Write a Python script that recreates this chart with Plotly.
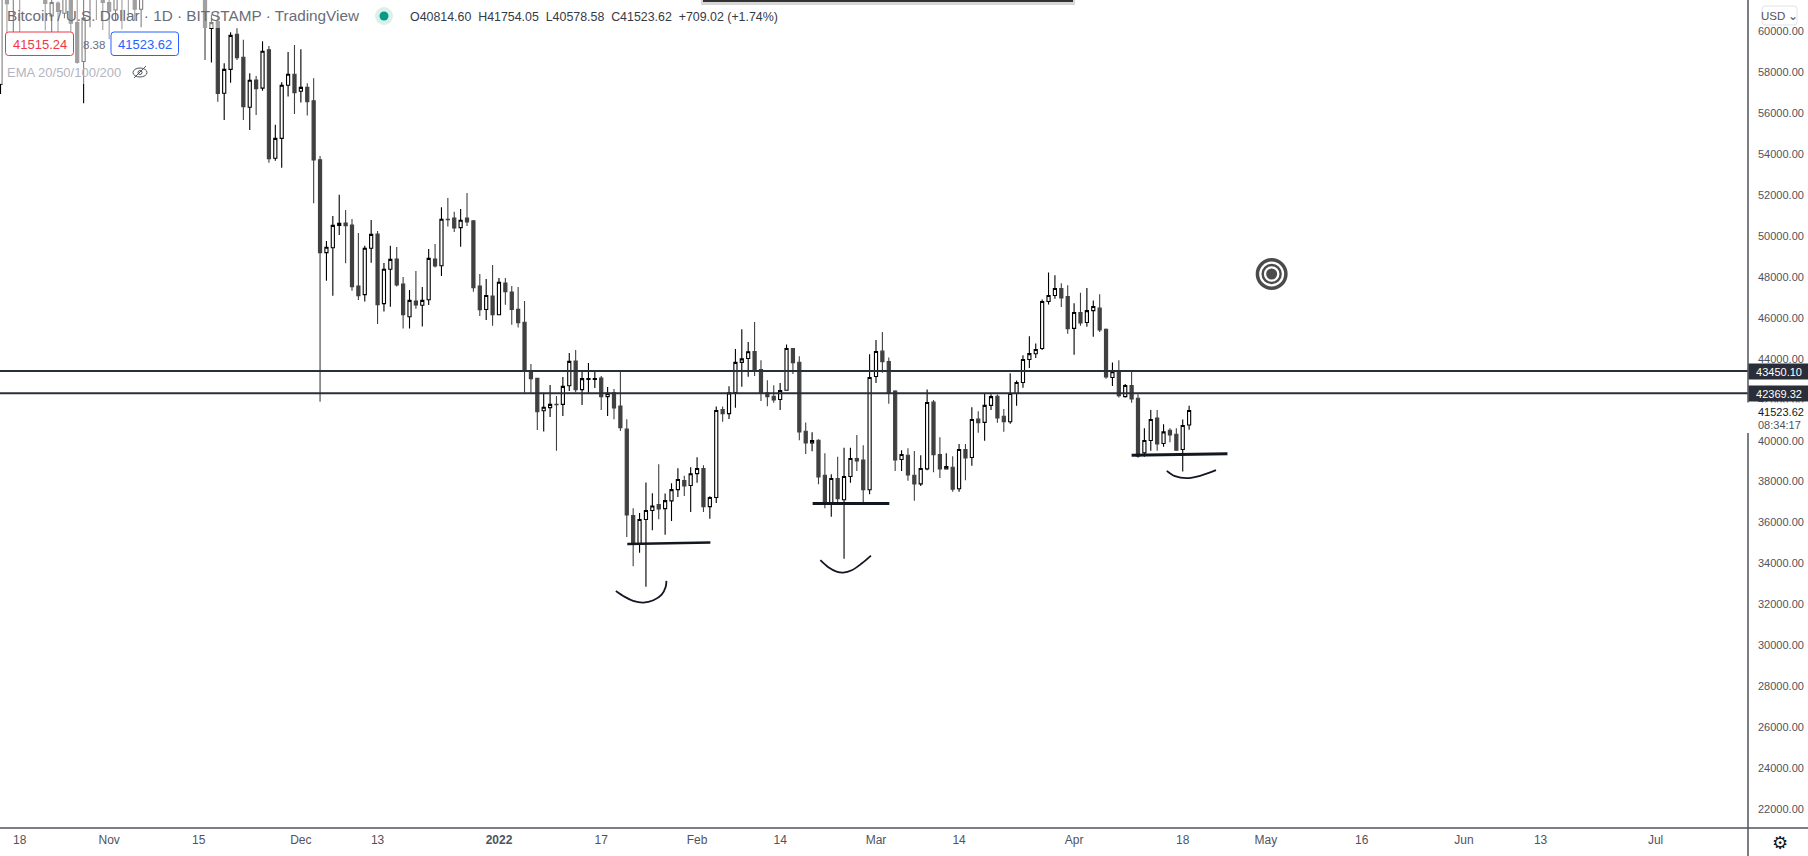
import pandas as pd
import plotly.graph_objects as go

# daily candles, 2021-10-15 .. 2022-04-19 (month per row)
opens = [
    57450, 61800, 61600, 62000, 61700, 64300, 66000, 62200, 60790, 61410, 60920, 63000, 60460, 58560, 61700, 62300, 61900,
    61440, 61080, 63200, 62900, 61800, 61110, 61900, 63200, 67500, 66900, 64900, 64800, 64100, 64400, 65500, 63570, 60170, 60510, 57010, 58180, 59890, 58770, 56330, 57660, 57260, 59130, 53840, 54810, 57400, 57940,
    57110, 57300, 56640, 53760, 49230, 49470, 50560, 50680, 50580, 47600, 47180, 49440, 50140, 46740, 48420, 48920, 47700, 46100, 46870, 46660, 46930, 48920, 48590, 50860, 50920, 50450, 50920, 50780, 47600, 46450, 47110,
    46200, 47750, 47310, 46460, 45830, 43430, 43090, 41510, 41660, 41830, 41820, 42730, 43940, 42540, 43040, 43040, 43110, 42200, 42390, 41740, 40610, 36390, 35020, 36200, 36640, 36930, 36730, 37110, 37660, 38100, 37860,
    38440, 38690, 36830, 37270, 41570, 41370, 42400, 43870, 44060, 44400, 43520, 42380, 42220, 42060, 42510, 44550, 43880, 40510, 39940, 40070, 38360, 36980, 38200, 37160, 38300, 39180, 39100, 37650,
    43180, 44420, 43910, 42470, 39130, 39340, 38360, 37940, 38670, 41930, 39370, 38670, 38750, 37700, 39620, 39230, 41100, 40940, 41770, 42220, 41240, 40970, 42350, 42890, 44010, 44290, 44550, 46840, 47140, 47480, 47090,
    45530, 46310, 45820, 46400, 46520, 45490, 43130, 43420, 42200, 42740, 42120, 39450, 40060, 41150, 39910, 40560, 40360, 39620, 40814.60,
]
highs = [
    62900, 62400, 62500, 62700, 64400, 67000, 66600, 63700, 61800, 61500, 63700, 63300, 61600, 62500, 62900, 62400, 62400,
    62400, 64300, 63500, 63100, 62600, 62000, 63300, 67800, 68500, 69000, 65500, 65400, 64900, 65500, 66300, 63600, 60850, 60970, 58480, 59990, 60190, 59620, 57990, 57860, 59550, 59320, 55470, 57550, 59030, 59370,
    59160, 57500, 57740, 53950, 49800, 51020, 52050, 51310, 50870, 50190, 49560, 50820, 50290, 48720, 49560, 49510, 48040, 47410, 48330, 47550, 49410, 49650, 51440, 51900, 51220, 51360, 52140, 50820, 48190, 47940, 48630,
    47990, 47990, 47600, 47550, 46870, 43790, 43090, 42390, 42770, 42230, 43160, 44330, 44470, 43450, 43840, 43500, 43200, 42670, 42570, 43450, 41100, 36750, 36520, 38000, 37480, 38900, 37470, 37970, 38700, 38330, 38750,
    39240, 38850, 37340, 41720, 41720, 42710, 44520, 45490, 44860, 45840, 43980, 43000, 42760, 42860, 44740, 44550, 44170, 40930, 40460, 40120, 39440, 38410, 39260, 39700, 39700, 40320, 39830, 44270,
    44960, 45350, 44110, 42510, 39580, 39680, 39540, 39340, 42550, 42030, 40220, 39440, 39290, 39880, 39880, 41680, 41490, 42350, 42320, 42300, 41590, 43340, 42990, 44220, 45150, 44790, 46940, 48260, 48130, 47740, 47640,
    46760, 47270, 47500, 46890, 47200, 45530, 43870, 43980, 42810, 43440, 42320, 40660, 41540, 41540, 40850, 40660, 40660, 41080, 41754.05,
]
lows = [
    56980, 59990, 60000, 59990, 61600, 63500, 62000, 60070, 59990, 59990, 60680, 60020, 58450, 56520, 60240, 60590, 60100,
    59650, 60590, 60140, 60760, 60590, 60240, 61700, 63100, 66300, 62800, 64100, 62300, 63300, 63600, 63400, 58640, 58510, 56600, 55710, 57530, 58640, 55710, 55220, 55950, 57140, 53620, 53720, 53380, 56850, 56000,
    56560, 55920, 51640, 41950, 47860, 47130, 50090, 48710, 47370, 46920, 46840, 48740, 45750, 46350, 46590, 47570, 45520, 45520, 46490, 45620, 46670, 48500, 48090, 50500, 50240, 49520, 50530, 47320, 46140, 45940, 45660,
    46200, 46690, 45710, 45570, 42390, 42390, 40570, 40490, 41200, 39560, 41250, 42470, 42410, 41790, 42390, 42620, 41550, 41250, 41100, 40520, 35350, 33920, 34570, 32910, 35680, 36210, 35450, 36130, 37300, 37350, 36570,
    37990, 36570, 36230, 37010, 40970, 41110, 41650, 42680, 43170, 43210, 41990, 41730, 41900, 41540, 42480, 43300, 40070, 39400, 39530, 37920, 36750, 36330, 37010, 34280, 37990, 38570, 36960, 37430,
    42870, 43360, 41850, 38570, 38570, 38090, 37110, 37830, 38610, 38510, 38220, 38640, 37550, 37550, 38120, 38820, 40430, 40040, 41550, 40920, 40480, 40870, 41750, 42630, 43600, 44090, 44480, 46700, 46980, 46580, 45270,
    44240, 45660, 45610, 45120, 45360, 43070, 42720, 42160, 42160, 41900, 39220, 39260, 39550, 39550, 39750, 39970, 39550, 38540, 40578.58,
]
closes = [
    62000, 61390, 62000, 61700, 64300, 66000, 62300, 61400, 61440, 61000, 63000, 60430, 58510, 60680, 62300, 61900, 61440,
    61000, 63500, 62900, 61600, 61110, 61900, 63200, 67500, 66900, 64900, 64800, 64100, 64400, 65500, 63600, 60220, 60460, 57000, 58180, 59840, 58750, 56360, 57650, 57240, 59060, 53820, 54810, 57400, 57940, 57040,
    57300, 56600, 53760, 49230, 49490, 50560, 50660, 50550, 47570, 47130, 49440, 50120, 46690, 48420, 48900, 47650, 46200, 46900, 46670, 46900, 48950, 48580, 50860, 50840, 50430, 50810, 50730, 47520, 46440, 47140, 46200,
    47780, 47320, 46450, 45810, 43450, 43080, 41460, 41680, 41820, 41810, 42700, 43920, 42540, 43080, 43080, 43080, 42200, 42360, 41640, 40680, 36420, 35020, 36200, 36640, 36860, 36720, 37120, 37660, 38150, 37840, 38430,
    38690, 36820, 37270, 41520, 41370, 42380, 43870, 44040, 44390, 43440, 42380, 42190, 42040, 42500, 44550, 43850, 40480, 39940, 40060, 38280, 36980, 38200, 37210, 38300, 39180, 39060, 37650, 43130,
    44400, 43900, 42380, 39110, 39370, 38380, 37940, 38690, 41910, 39360, 38670, 38790, 37680, 39620, 39210, 41080, 40920, 41770, 42200, 41160, 40970, 42350, 42890, 44010, 44300, 44500, 46840, 47140, 47480, 47020, 45510,
    46310, 45800, 46400, 46600, 45460, 43160, 43420, 42250, 42740, 42090, 39290, 40060, 41080, 39890, 40480, 40330, 39580, 40790, 41523.62,
]
dates = pd.date_range("2021-10-15", periods=len(opens), freq="D")

# x axis labels
x_tickvals = ["2021-10-18", "2021-11-01", "2021-11-15", "2021-12-01", "2021-12-13", "2022-01-01", "2022-01-17",
              "2022-02-01", "2022-02-14", "2022-03-01", "2022-03-14", "2022-04-01", "2022-04-18", "2022-05-01",
              "2022-05-16", "2022-06-01", "2022-06-13", "2022-07-01"]
x_ticktext = ["18", "Nov", "15", "Dec", "13", "<b>2022</b>", "17", "Feb", "14", "Mar", "14", "Apr", "18", "May",
              "16", "Jun", "13", "Jul"]
y_tickvals = list(range(22000, 60001, 2000))
y_ticktext = [f"{v}.00" for v in y_tickvals]

# horizontal levels
levels = [43450.10, 42369.32]

# hand drawn support lines under the three lows
support_1_x = ["2022-01-21 02:00", "2022-02-03 02:00"]
support_1_y = [35008, 35074]
support_2_x = ["2022-02-19 02:00", "2022-03-03 02:00"]
support_2_y = [36978, 36978]
support_3_x = ["2022-04-10 00:00", "2022-04-25 00:00"]
support_3_y = [39339, 39404]

# hand drawn arcs below the wicks
arc_1_x = ["2022-01-19 07:00", "2022-01-20 17:00", "2022-01-22 00:00", "2022-01-23 14:00",
           "2022-01-25 04:00", "2022-01-26 11:00", "2022-01-27 02:00", "2022-01-27 05:00"]
arc_1_y = [32713, 32420, 32225, 32143, 32257, 32534, 32908, 33201]
arc_2_x = ["2022-02-20 07:00", "2022-02-21 13:00", "2022-02-22 20:00", "2022-02-23 21:00",
           "2022-02-25 05:00", "2022-02-26 18:00", "2022-02-28 05:00"]
arc_2_y = [34211, 33869, 33657, 33608, 33722, 34048, 34439]
arc_3_x = ["2022-04-15 12:00", "2022-04-16 19:00", "2022-04-18 15:00", "2022-04-20 17:00", "2022-04-23 05:00"]
arc_3_y = [38574, 38313, 38216, 38330, 38607]

# target icon on the chart
target_x = "2022-05-01 22:00"
target_y = 48186

DARK = "#2a2e39"
AXIS = "#50535e"
PLOT_W = 1748
PLOT_H = 828


def px(x):
    return x / PLOT_W


def py(y):
    return 1 - y / PLOT_H


def label(x, y, text, color="#50535e", size=12, anchor="left", **kw):
    fig.add_annotation(xref="paper", yref="paper", x=px(x), y=py(y), text=text, showarrow=False,
                       xanchor=anchor, yanchor="middle", align=anchor if anchor != "center" else "center",
                       font=dict(family="Liberation Sans", size=size, color=color),
                       borderpad=0, **kw)


def box(x0, y0, x1, y1, color, fill="white", r=3):
    # rounded rectangle, given in screen pixels
    path = (f"M {px(x0 + r)} {py(y0)} L {px(x1 - r)} {py(y0)} Q {px(x1)} {py(y0)} {px(x1)} {py(y0 + r)} "
            f"L {px(x1)} {py(y1 - r)} Q {px(x1)} {py(y1)} {px(x1 - r)} {py(y1)} "
            f"L {px(x0 + r)} {py(y1)} Q {px(x0)} {py(y1)} {px(x0)} {py(y1 - r)} "
            f"L {px(x0)} {py(y0 + r)} Q {px(x0)} {py(y0)} {px(x0 + r)} {py(y0)} Z")
    fig.add_shape(type="path", xref="paper", yref="paper", path=path, fillcolor=fill,
                  line=dict(color=color, width=1))


def rect(x0, y0, x1, y1, color, opacity=1.0):
    fig.add_shape(type="rect", xref="paper", yref="paper", x0=px(x0), x1=px(x1), y0=py(y0), y1=py(y1),
                  fillcolor=color, opacity=opacity, line=dict(width=0))


def circle(cx, cy, r, fill="rgba(0,0,0,0)", line=None, width=0):
    fig.add_shape(type="circle", xref="paper", yref="paper", x0=px(cx - r), x1=px(cx + r),
                  y0=py(cy - r), y1=py(cy + r), fillcolor=fill, line=dict(color=line, width=width))


fig = go.Figure()

fig.add_trace(go.Candlestick(
    x=dates, open=opens, high=highs, low=lows, close=closes,
    increasing=dict(line=dict(color="#000000", width=1.1), fillcolor="#ffffff"),
    decreasing=dict(line=dict(color="#404040", width=1.1), fillcolor="#404040"),
    whiskerwidth=0, hoverinfo="skip",
))

for xs, ys, w in [(support_1_x, support_1_y, 2.5), (support_2_x, support_2_y, 3), (support_3_x, support_3_y, 3)]:
    fig.add_trace(go.Scatter(x=xs, y=ys, mode="lines", line=dict(color="#131722", width=w), hoverinfo="skip"))

for xs, ys in [(arc_1_x, arc_1_y), (arc_2_x, arc_2_y), (arc_3_x, arc_3_y)]:
    fig.add_trace(go.Scatter(x=xs, y=ys, mode="lines", line=dict(color="#131722", width=1.8, shape="spline"),
                             hoverinfo="skip"))

fig.add_trace(go.Scatter(
    x=[target_x] * 3, y=[target_y] * 3, mode="markers", hoverinfo="skip",
    marker=dict(size=[28.5, 18, 11], symbol="circle", color=["#ffffff", "#ffffff", "#000000"],
                line=dict(color="#000000", width=[3.5, 2.4, 0])),
))

for level in levels:
    fig.add_hline(y=level, line=dict(color=DARK, width=2))

fig.update_layout(
    width=1808, height=856, autosize=False,
    margin=dict(l=0, r=60, t=0, b=28),
    paper_bgcolor="white", plot_bgcolor="white",
    showlegend=False, boxgap=0.3,
    xaxis=dict(
        type="date", range=["2021-10-14 22:00", "2022-07-15 11:00"], rangeslider=dict(visible=False),
        tickmode="array", tickvals=x_tickvals, ticktext=x_ticktext, showgrid=False, zeroline=False,
        ticks="", tickangle=0, ticklabelstandoff=3, tickfont=dict(family="Liberation Sans", size=12, color=AXIS),
    ),
    yaxis=dict(
        side="right", range=[21136, 61565], tickmode="array", tickvals=y_tickvals, ticktext=y_ticktext,
        showgrid=False, zeroline=False, ticks="", ticklabelstandoff=9, ticklabelshift=-1,
        tickfont=dict(family="Liberation Sans", size=11, color=AXIS),
    ),
)

# axis lines run through to the window edges
fig.add_shape(type="line", xref="paper", yref="paper", x0=0, x1=1808 / PLOT_W, y0=0, y1=0,
              line=dict(color=AXIS, width=1.5))
fig.add_shape(type="line", xref="paper", yref="paper", x0=1, x1=1, y0=py(856), y1=1,
              line=dict(color=AXIS, width=1.5))

# legend veil over the candles, bar at the top edge
rect(0, 0, 360, 28, "white", 0.5)
rect(0, 28, 180, 84, "white", 0.5)
rect(701, 0, 1075, 5, "#b0b0b0", 0.5)
rect(703, 0, 1073, 2, "#333333")

# title row
label(6, 16, "Bitcoin / U.S. Dollar · 1D · BITSTAMP · TradingView", color="#6a6d78", size=15.3)
circle(384, 16, 9, fill="#d9f1ec")
circle(384, 16, 4.5, fill="#089981")
label(409, 17,
      "O40814.60  H41754.05  L40578.58  C41523.62  +709.02 (+1.74%)",
      color="#363a45", size=12.4)

# bid / ask row
box(5.5, 32, 73.5, 55.5, "#f23645")
label(39.5, 44.5, "41515.24", color="#f23645", size=13, anchor="center")
label(82, 44.5, "8.38", color="#6a6d78", size=11.5)
box(111, 32, 178.5, 55.5, "#2962ff")
label(145, 44.5, "41523.62", color="#2962ff", size=13, anchor="center")

# indicator row
label(6, 72.5, "EMA 20/50/100/200", color="#b2b5be", size=13)
fig.add_shape(type="circle", xref="paper", yref="paper", x0=px(133), x1=px(147), y0=py(68), y1=py(77),
              line=dict(color="#50535e", width=1))
fig.add_shape(type="line", xref="paper", yref="paper", x0=px(134), x1=px(146), y0=py(78), y1=py(66),
              line=dict(color="#50535e", width=1))
circle(140, 72.5, 2, line="#50535e", width=1)

# price axis: currency button and the tags that sit over the ticks
box(1762, 6, 1797, 25, "#e0e3eb")
label(1779.5, 16, "USD ⌄", color="#50535e", size=11.5, anchor="center")

for level in levels:
    fig.add_annotation(xref="paper", yref="y", x=1, y=level, text=f"{level:.2f}", showarrow=False, xanchor="left",
                       yanchor="middle", width=60, height=15, bgcolor=DARK, borderpad=0,
                       font=dict(family="Liberation Sans", size=11, color="white"))
rect(1747, 402.5, 1808, 433, "white")
label(1757, 412, "41523.62", color="#131722", size=11)
label(1757, 425, "08:34:17", color="#50535e", size=11)

# settings gear
fig.add_annotation(xref="paper", yref="paper", x=px(1780), y=py(842), text="⚙", showarrow=False,
                   xanchor="center", yanchor="middle",
                   font=dict(family="DejaVu Sans", size=18, color="#131722"))

fig.write_html("out.html", config=dict(displayModeBar=False, staticPlot=True),
               post_script="document.body.style.margin='0';document.body.style.overflow='hidden';")
